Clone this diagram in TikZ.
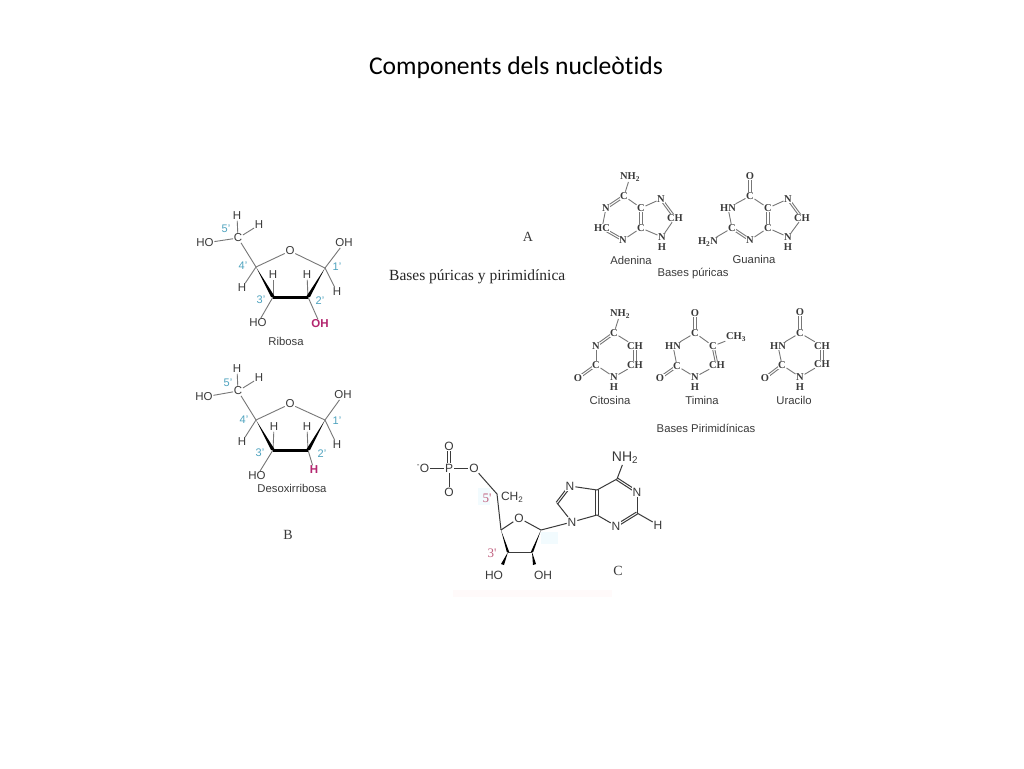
\documentclass[tikz,border=0pt]{standalone}
\usepackage{fontspec}
\usetikzlibrary{calc}
\pgfdeclarelayer{bondlayer}
\pgfsetlayers{bondlayer,main}
\setmainfont{Liberation Sans}
\newfontfamily\titlefont[Ligatures=NoCommon]{Carlito}
\newfontfamily\seriffont{Liberation Serif}
\newcommand{\fsz}[1]{\fontsize{#1}{#1}\selectfont}
\newcommand{\sub}[1]{\textsubscript{#1}}
\definecolor{ink}{HTML}{3A3A3A}
\definecolor{bondgrey}{HTML}{777777}
\definecolor{tealnum}{HTML}{4FA3BF}
\definecolor{pinkmark}{HTML}{B3266F}
\definecolor{rosenum}{HTML}{C0607F}
\tikzset{
  titletext/.style={font=\titlefont\fsz{25.6}, text=black, inner sep=0pt},
  sugaratom/.style={font=\fsz{11.5}, text=ink, inner sep=0.6pt},
  pinkatom/.style={sugaratom, text=pinkmark, font=\bfseries\fsz{11.5}},
  primenum/.style={font=\fsz{11}, text=tealnum, inner sep=0pt},
  capname/.style={font=\fsz{11.3}, text=ink, inner sep=0pt},
  baseatom/.style={font=\seriffont\bfseries\fsz{10.5}, text=ink, inner sep=0.5pt, fill=white},
  refletter/.style={font=\seriffont\fsz{14}, text=ink, inner sep=0pt},
  serifhead/.style={font=\seriffont\fsz{15.5}, text=black!85, inner sep=0pt, anchor=west},
  nucatom/.style={font=\fsz{12}, text=ink, inner sep=0.8pt, fill=white},
  nucbig/.style={nucatom, font=\fsz{14}},
  rosetext/.style={font=\seriffont\fsz{13}, text=rosenum, inner sep=0pt},
  bondline/.style={draw=bondgrey, line width=0.9pt},
  darkbond/.style={draw=ink, line width=1pt},
  heavybond/.style={draw=black, line width=3pt},
  wedgefill/.style={fill=black},
  smudge/.style={fill=#1, draw=none}
}
% double bond: two parallel strokes, centre to centre, under the atom labels
\newcommand{\dbl}[3][bondline]{%
  \begin{pgfonlayer}{bondlayer}
  \draw[#1] ($(#2)!1.1pt!90:(#3)$) -- ($(#3)!1.1pt!-90:(#2)$);
  \draw[#1] ($(#2)!1.1pt!-90:(#3)$) -- ($(#3)!1.1pt!90:(#2)$);
  \end{pgfonlayer}}
\begin{document}
\begin{tikzpicture}[x=1pt,y=-1pt]
\useasboundingbox (0,0) rectangle (1024,768);
\begin{pgfonlayer}{bondlayer}
\fill[white] (0,0) rectangle (1024,768);
\fill[smudge=cyan!5] (478,488) rectangle (490,505);
\fill[smudge=cyan!5] (541,532) rectangle (558,544);
\fill[smudge=red!2] (453,590) rectangle (612,597);
\end{pgfonlayer}
\node[titletext] (title) at (516,68) {Components dels nucleòtids};

% ---------- Ribosa ----------
\coordinate (r4) at (256,267); \coordinate (r1) at (325,268);
\coordinate (r3) at (273,297); \coordinate (r2) at (308,297);
\node[sugaratom] (rc5) at (238,238) {C};
\node[sugaratom] (rh5a) at (237,216) {H};
\node[sugaratom] (rh5b) at (259,225) {H};
\node[sugaratom] (rho5) at (205,243) {HO};
\node[sugaratom] (ro) at (290,251) {O};
\node[sugaratom] (roh1) at (344,243) {OH};
\node[sugaratom] (rh1) at (337,292) {H};
\node[sugaratom] (rh2) at (307,275) {H};
\node[sugaratom] (rh3) at (273,275) {H};
\node[sugaratom] (rh4) at (242,288) {H};
\node[sugaratom] (rho3) at (258,323) {HO};
\node[pinkatom] (roh2) at (320,324) {OH};
\node[primenum] (rn5) at (226,229) {5'};
\node[primenum] (rn4) at (243,266) {4'};
\node[primenum] (rn3) at (261,300) {3'};
\node[primenum] (rn2) at (320,301) {2'};
\node[primenum] (rn1) at (337,267) {1'};
\node[capname] (rname) at (286,341) {Ribosa};
\draw[bondline] (rc5)--(rh5a); \draw[bondline] (rc5)--(rh5b); \draw[bondline] (rc5)--(rho5);
\draw[bondline] (rc5)--(r4); \draw[bondline] (r4)--(ro); \draw[bondline] (ro)--(r1);
\draw[bondline] (r1)--(roh1); \draw[bondline] (r1)--(rh1); \draw[bondline] (r4)--(rh4);
\draw[bondline] (r3)--(rh3); \draw[bondline] (r2)--(rh2); \draw[bondline] (r3)--(rho3); \draw[bondline] (r2)--(roh2);
\fill[wedgefill] (r4) -- ([xshift=-2pt]r3) -- ([xshift=2pt]r3) -- cycle;
\fill[wedgefill] (r1) -- ([xshift=-2pt]r2) -- ([xshift=2pt]r2) -- cycle;
\draw[heavybond] (r3)--(r2);

% ---------- Desoxirribosa ----------
\coordinate (d4) at (256,420); \coordinate (d1) at (325,420);
\coordinate (d3) at (273,450); \coordinate (d2) at (308,450);
\node[sugaratom] (dc5) at (238,391) {C};
\node[sugaratom] (dh5a) at (237,369) {H};
\node[sugaratom] (dh5b) at (259,378) {H};
\node[sugaratom] (dho5) at (204,397) {HO};
\node[sugaratom] (do) at (290,404) {O};
\node[sugaratom] (doh1) at (343,395) {OH};
\node[sugaratom] (dh1) at (337,445) {H};
\node[sugaratom] (dh2) at (307,427) {H};
\node[sugaratom] (dh3) at (274,427) {H};
\node[sugaratom] (dh4) at (242,442) {H};
\node[sugaratom] (dho3) at (257,476) {HO};
\node[pinkatom] (dh2b) at (314,470) {H};
\node[primenum] (dn5) at (228,383) {5'};
\node[primenum] (dn4) at (244,420) {4'};
\node[primenum] (dn3) at (260,453) {3'};
\node[primenum] (dn2) at (322,454) {2'};
\node[primenum] (dn1) at (337,421) {1'};
\node[capname] (dname) at (292,488) {Desoxirribosa};
\node[refletter] (lb) at (288,535) {B};
\draw[bondline] (dc5)--(dh5a); \draw[bondline] (dc5)--(dh5b); \draw[bondline] (dc5)--(dho5);
\draw[bondline] (dc5)--(d4); \draw[bondline] (d4)--(do); \draw[bondline] (do)--(d1);
\draw[bondline] (d1)--(doh1); \draw[bondline] (d1)--(dh1); \draw[bondline] (d4)--(dh4);
\draw[bondline] (d3)--(dh3); \draw[bondline] (d2)--(dh2); \draw[bondline] (d3)--(dho3); \draw[bondline] (d2)--(dh2b);
\fill[wedgefill] (d4) -- ([xshift=-2pt]d3) -- ([xshift=2pt]d3) -- cycle;
\fill[wedgefill] (d1) -- ([xshift=-2pt]d2) -- ([xshift=2pt]d2) -- cycle;
\draw[heavybond] (d3)--(d2);

% ---------- Heading ----------
\node[refletter] (la) at (528,237) {A};
\begin{scope}
\clip (380,265) rectangle (565.5,290);
\node[serifhead] (head) at (389,277) {Bases púricas y pirimidínicas};
\end{scope}

% ---------- Adenina ----------
\node[baseatom] (anh) at (630,177) {NH\sub{2}};
\node[baseatom] (ac6) at (624,196) {C};
\node[baseatom] (an1) at (606,208) {N};
\node[baseatom] (ac2) at (602,228) {HC};
\node[baseatom] (an3) at (623,240) {N};
\node[baseatom] (ac4) at (641,228) {C};
\node[baseatom] (ac5) at (641,208) {C};
\node[baseatom] (an7) at (661,199) {N};
\node[baseatom] (ac8) at (675,218) {CH};
\node[baseatom] (an9) at (662,237) {N};
\node[baseatom] (ah9) at (662,247) {H};
\node[capname] (aname) at (631,260) {Adenina};
\draw[bondline] (anh)--(ac6); \dbl{ac6}{an1} \draw[bondline] (an1)--(ac2);
\dbl{ac2}{an3} \draw[bondline] (an3)--(ac4); \dbl{ac4}{ac5}
\draw[bondline] (ac5)--(ac6); \draw[bondline] (ac5)--(an7); \dbl{an7}{ac8}
\draw[bondline] (ac8)--(an9); \draw[bondline] (an9)--(ac4);

% ---------- Guanina ----------
\node[baseatom] (go) at (750,176) {O};
\node[baseatom] (gc6) at (750,196) {C};
\node[baseatom] (gn1) at (728,208) {HN};
\node[baseatom] (gc2) at (732,228) {C};
\node[baseatom] (gnh) at (708,242) {H\sub{2}N};
\node[baseatom] (gn3) at (750,240) {N};
\node[baseatom] (gc4) at (768,228) {C};
\node[baseatom] (gc5) at (768,208) {C};
\node[baseatom] (gn7) at (788,199) {N};
\node[baseatom] (gc8) at (802,218) {CH};
\node[baseatom] (gn9) at (788,237) {N};
\node[baseatom] (gh9) at (788,247) {H};
\node[capname] (gname) at (754,259) {Guanina};
\node[capname] (pur) at (693,274) {Bases púricas};
\dbl{go}{gc6} \draw[bondline] (gc6)--(gn1); \draw[bondline] (gn1)--(gc2);
\draw[bondline] (gc2)--(gnh); \dbl{gc2}{gn3} \draw[bondline] (gn3)--(gc4);
\dbl{gc4}{gc5} \draw[bondline] (gc5)--(gc6); \draw[bondline] (gc5)--(gn7);
\dbl{gn7}{gc8} \draw[bondline] (gc8)--(gn9); \draw[bondline] (gn9)--(gc4);

% ---------- Citosina ----------
\node[baseatom] (cnh) at (620,314) {NH\sub{2}};
\node[baseatom] (cc4) at (614,333) {C};
\node[baseatom] (cn3) at (596,346) {N};
\node[baseatom] (cc2) at (596,365) {C};
\node[baseatom] (co) at (578,378) {O};
\node[baseatom] (cn1) at (614,377) {N};
\node[baseatom] (ch1) at (614,387) {H};
\node[baseatom] (cc5) at (635,346) {CH};
\node[baseatom] (cc6) at (635,365) {CH};
\node[capname] (cname) at (610,400) {Citosina};
\draw[bondline] (cnh)--(cc4); \dbl{cc4}{cn3} \draw[bondline] (cn3)--(cc2);
\dbl{cc2}{co} \draw[bondline] (cc2)--(cn1); \draw[bondline] (cn1)--(cc6);
\dbl{cc6}{cc5} \draw[bondline] (cc5)--(cc4);

% ---------- Timina ----------
\node[baseatom] (to4) at (695,313) {O};
\node[baseatom] (tc4) at (695,333) {C};
\node[baseatom] (tn3) at (673,346) {HN};
\node[baseatom] (tc2) at (677,366) {C};
\node[baseatom] (to2) at (660,378) {O};
\node[baseatom] (tn1) at (695,377) {N};
\node[baseatom] (th1) at (695,387) {H};
\node[baseatom] (tc5) at (713,346) {C};
\node[baseatom] (tc6) at (717,365) {CH};
\node[baseatom] (tme) at (736,337) {CH\sub{3}};
\node[capname] (tname) at (702,400) {Timina};
\dbl{to4}{tc4} \draw[bondline] (tc4)--(tn3); \draw[bondline] (tn3)--(tc2);
\dbl{tc2}{to2} \draw[bondline] (tc2)--(tn1); \draw[bondline] (tn1)--(tc6);
\dbl{tc6}{tc5} \draw[bondline] (tc5)--(tc4); \draw[bondline] (tc5)--(tme);

% ---------- Uracilo ----------
\node[baseatom] (uo4) at (800,312) {O};
\node[baseatom] (uc4) at (800,333) {C};
\node[baseatom] (un3) at (778,346) {HN};
\node[baseatom] (uc2) at (782,365) {C};
\node[baseatom] (uo2) at (765,378) {O};
\node[baseatom] (un1) at (800,377) {N};
\node[baseatom] (uh1) at (800,387) {H};
\node[baseatom] (uc5) at (822,346) {CH};
\node[baseatom] (uc6) at (822,364) {CH};
\node[capname] (uname) at (794,400) {Uracilo};
\node[capname] (pyr) at (706,428) {Bases Pirimidínicas};
\dbl{uo4}{uc4} \draw[bondline] (uc4)--(un3); \draw[bondline] (un3)--(uc2);
\dbl{uc2}{uo2} \draw[bondline] (uc2)--(un1); \draw[bondline] (un1)--(uc6);
\dbl{uc6}{uc5} \draw[bondline] (uc5)--(uc4);

% ---------- Nucleotid ----------
\node[nucatom] (no1) at (423,468) {\textsuperscript{-}O};
\node[nucatom] (np) at (449,468) {P};
\node[nucatom] (not) at (449,446) {O};
\node[nucatom] (nob) at (449,492) {O};
\node[nucatom] (nor) at (474,468) {O};
\coordinate (n5) at (497,494);
\node[nucatom,anchor=west] (nch) at (500,497) {CH\sub{2}};
\node[rosetext] (nl5) at (487,498) {5'};
\coordinate (sc4) at (501,530); \coordinate (sc1) at (541,530);
\coordinate (sc2) at (532,552); \coordinate (sc3) at (508,552);
\node[nucatom] (nro) at (519,518) {O};
\node[rosetext] (nl3) at (492,553) {3'};
\node[nucatom] (nho) at (494,575) {HO};
\node[nucatom] (noh) at (543,575) {OH};
\node[nucatom] (n9) at (572,522) {N};
\coordinate (c8) at (557,503);
\node[nucatom] (n7) at (570,486) {N};
\coordinate (c5) at (597,490); \coordinate (c4) at (597,515);
\node[nucatom] (n3) at (616,526) {N};
\coordinate (c2) at (637,513);
\node[nucatom] (n1) at (637,492) {N};
\coordinate (c6) at (617,479);
\node[nucbig] (nnh) at (625,458) {NH\sub{2}};
\node[nucatom] (nh) at (658,525) {H};
\node[refletter] (lc) at (618,571) {C};
\draw[darkbond] (no1)--(np); \draw[darkbond] (np)--(nor); \draw[darkbond] (np)--(nob);
\dbl[darkbond]{np}{not}
\draw[darkbond] (nor)--(n5); \draw[darkbond] (n5)--(sc4);
\draw[darkbond] (sc4)--(nro); \draw[darkbond] (nro)--(sc1);
\draw[darkbond] (sc2)--(sc3);
\fill[wedgefill] (sc4) -- ([xshift=-1.2pt]sc3) -- ([xshift=1.2pt]sc3) -- cycle;
\fill[wedgefill] (sc1) -- ([xshift=-1.2pt]sc2) -- ([xshift=1.2pt]sc2) -- cycle;
\draw[darkbond] (sc1)--(n9);
\fill[wedgefill] (sc3) -- (504,565) -- (501,564) -- cycle;
\fill[wedgefill] (sc2) -- (533,565) -- (536,564) -- cycle;
\draw[darkbond] (n9)--(c8); \dbl[darkbond]{c8}{n7} \draw[darkbond] (n7)--(c5);
\dbl[darkbond]{c5}{c4} \draw[darkbond] (c4)--(n9); \draw[darkbond] (c4)--(n3);
\dbl[darkbond]{n3}{c2} \draw[darkbond] (c2)--(n1); \dbl[darkbond]{n1}{c6}
\draw[darkbond] (c6)--(c5); \draw[darkbond] (c6)--(nnh); \draw[darkbond] (c2)--(nh);
\end{tikzpicture}
\end{document}
